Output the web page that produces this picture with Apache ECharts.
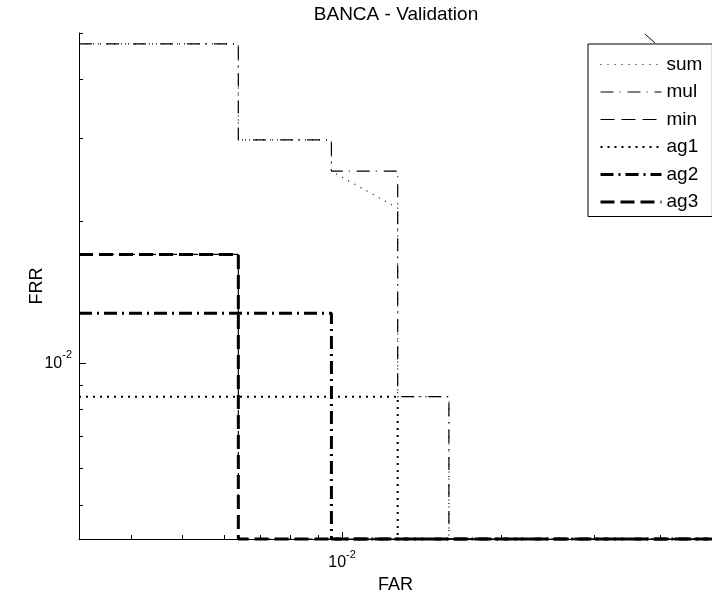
<!DOCTYPE html>
<html>
<head>
<meta charset="utf-8">
<title>BANCA - Validation</title>
<script src="https://cdn.jsdelivr.net/npm/echarts@6/dist/echarts.min.js"></script>
<style>
  html, body { margin: 0; padding: 0; background: #fff; }
  #chart { width: 712px; height: 599px; }
</style>
</head>
<body>
<div id="chart"></div>
<script>
// DET curves (FAR vs FRR), both axes logarithmic
const FONT = '"Liberation Sans", Arial, Helvetica, sans-serif';

// axis extents
const farRange = [0.003185, 0.05];
const frrRange = [0.00425, 0.05];

// tick values
const majorTicks = [0.01];
const farMinorTicks = [0.004, 0.005, 0.006, 0.007, 0.008, 0.009, 0.02, 0.03, 0.04];
const frrMinorTicks = [0.005, 0.006, 0.007, 0.008, 0.009, 0.02, 0.03, 0.04, 0.05];

// curves: FAR / FRR operating points
const sumFAR = [0.003185, 0.00637, 0.00637, 0.00955, 0.00955, 0.01274, 0.01274, 0.01592, 0.01592, 0.05];
const sumFRR = [0.0474, 0.0474, 0.0297, 0.0297, 0.0255, 0.0213, 0.0085, 0.0085, 0.00425, 0.00425];

const mulFAR = [0.003185, 0.00637, 0.00637, 0.00955, 0.00955, 0.01274, 0.01274, 0.01592, 0.01592, 0.05];
const mulFRR = [0.0474, 0.0474, 0.0297, 0.0297, 0.0255, 0.0255, 0.0085, 0.0085, 0.00425, 0.00425];

const minFAR = [0.003185, 0.00637, 0.00637, 0.05];
const minFRR = [0.0170, 0.0170, 0.00425, 0.00425];

const ag1FAR = [0.003185, 0.01274, 0.01274, 0.05];
const ag1FRR = [0.0085, 0.0085, 0.00425, 0.00425];

const ag2FAR = [0.003185, 0.00955, 0.00955, 0.05];
const ag2FRR = [0.01276, 0.01276, 0.00425, 0.00425];

const ag3FAR = [0.003185, 0.00637, 0.00637, 0.05];
const ag3FRR = [0.0170, 0.0170, 0.00425, 0.00425];

const lg = v => Math.log10(v);
const pairs = (xs, ys) => xs.map((x, i) => [lg(x), lg(ys[i])]);

const curves = [
  { name: 'sum', far: sumFAR, frr: sumFRR, width: 1.2, dash: [1, 6] },
  { name: 'mul', far: mulFAR, frr: mulFRR, width: 1.2, dash: [13, 6, 1, 7] },
  { name: 'min', far: minFAR, frr: minFRR, width: 1.2, dash: [14, 7] },
  { name: 'ag1', far: ag1FAR, frr: ag1FRR, width: 2, dash: [2, 5] },
  { name: 'ag2', far: ag2FAR, frr: ag2FRR, width: 3, dash: [13, 5, 2, 5] },
  { name: 'ag3', far: ag3FAR, frr: ag3FRR, width: 3, dash: [14, 6] }
];

const powLabel = v => '{b|10}{s|' + Math.round(v) + '}';
const labelRich = {
  b: { fontFamily: FONT, fontSize: 16, color: '#000', lineHeight: 18 },
  s: { fontFamily: FONT, fontSize: 11, color: '#000', lineHeight: 12, padding: [0, 0, 16, 0] }
};

const black = { color: '#000', width: 1 };

const chart = echarts.init(document.getElementById('chart'), null, { renderer: 'canvas' });

chart.setOption({
  animation: false,
  backgroundColor: '#fff',
  title: {
    text: 'BANCA - Validation',
    left: 391,
    top: 0,
    textAlign: 'center',
    textStyle: { fontFamily: FONT, fontSize: 19, fontWeight: 'normal', color: '#000' }
  },
  grid: { left: 79, width: 640, top: 33, bottom: 60 },
  xAxis: [
    {
      type: 'value', position: 'bottom',
      min: lg(farRange[0]), max: lg(farRange[1]),
      name: 'FAR', nameLocation: 'middle', nameGap: 37, nameMoveOverlap: false,
      nameTextStyle: { fontFamily: FONT, fontSize: 18, color: '#000' },
      axisLine: { show: true, lineStyle: black },
      axisTick: { show: true, inside: true, length: 7, customValues: majorTicks.map(lg), lineStyle: black },
      axisLabel: { show: true, customValues: majorTicks.map(lg), formatter: powLabel, rich: labelRich, margin: 15 },
      splitLine: { show: false }
    },
    {
      type: 'value', position: 'bottom',
      min: lg(farRange[0]), max: lg(farRange[1]),
      axisLine: { show: false },
      axisTick: { show: true, inside: true, length: 4, customValues: farMinorTicks.map(lg), lineStyle: black },
      axisLabel: { show: false },
      splitLine: { show: false }
    }
  ],
  yAxis: [
    {
      type: 'value', position: 'left',
      min: lg(frrRange[0]), max: lg(frrRange[1]),
      name: 'FRR', nameLocation: 'middle', nameGap: 33, nameRotate: 90, nameMoveOverlap: false,
      nameTextStyle: { fontFamily: FONT, fontSize: 18, color: '#000' },
      axisLine: { show: true, lineStyle: black },
      axisTick: { show: true, inside: true, length: 7, customValues: majorTicks.map(lg), lineStyle: black },
      axisLabel: { show: true, customValues: majorTicks.map(lg), formatter: powLabel, rich: labelRich, margin: 7 },
      splitLine: { show: false }
    },
    {
      type: 'value', position: 'left',
      min: lg(frrRange[0]), max: lg(frrRange[1]),
      axisLine: { show: false },
      axisTick: { show: true, inside: true, length: 4, customValues: frrMinorTicks.map(lg), lineStyle: black },
      axisLabel: { show: false },
      splitLine: { show: false }
    }
  ],
  legend: {
    orient: 'vertical',
    left: 588, top: 44,
    padding: [11, 10, 5, 11],
    itemGap: 8.5,
    itemWidth: 61, itemHeight: 14,
    backgroundColor: '#fff',
    borderColor: '#000', borderWidth: 1, borderRadius: 0,
    itemStyle: { opacity: 0 },
    textStyle: { fontFamily: FONT, fontSize: 19, color: '#000' },
    data: curves.map(c => ({
      name: c.name,
      itemStyle: { opacity: 0 },
      lineStyle: { color: '#000', width: c.width, type: c.dash }
    }))
  },
  graphic: [
    { type: 'line', shape: { x1: 645, y1: 34, x2: 655, y2: 43 }, style: { stroke: '#000', lineWidth: 1 } }
  ],
  series: curves.map((c, i) => ({
    name: c.name,
    type: 'line',
    data: pairs(c.far, c.frr),
    symbol: 'none',
    showSymbol: false,
    clip: false,
    z: 2 + i,
    color: '#000',
    lineStyle: { color: '#000', width: c.width, type: c.dash, cap: 'butt' },
    emphasis: { disabled: true }
  }))
});
</script>
</body>
</html>
